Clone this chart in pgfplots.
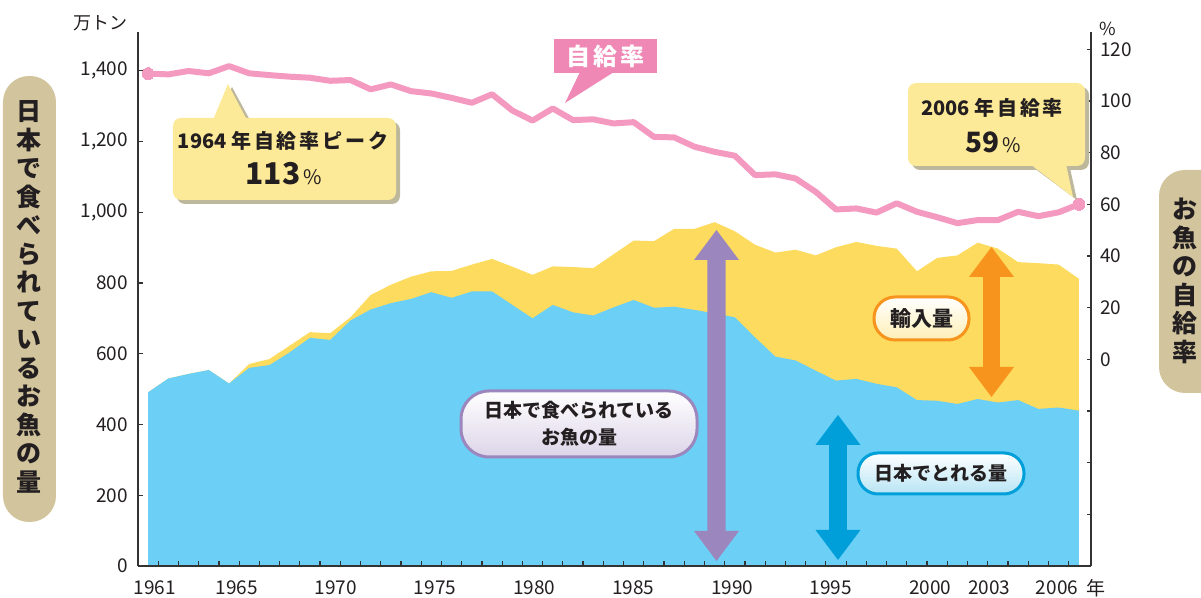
\documentclass[border=0pt]{standalone}
\usepackage{fontspec}
\setmainfont{Noto Sans CJK JP}
\usepackage{pgfplots}
\pgfplotsset{compat=1.18}
\usepackage{pgfplotstable}

\definecolor{seablue}{HTML}{6BCFF6}
\definecolor{importy}{HTML}{FDDB5E}
\definecolor{ratepink}{HTML}{F49AC1}
\definecolor{tagpink}{HTML}{F088B6}
\definecolor{calloutfill}{HTML}{FDEA98}
\definecolor{calloutshadow}{HTML}{BDB79C}
\definecolor{sidetan}{HTML}{D2C49D}
\definecolor{arrowpurple}{HTML}{9C86BE}
\definecolor{arrowblue}{HTML}{009FDA}
\definecolor{arroworange}{HTML}{F7941D}
\definecolor{ink}{HTML}{231F20}
\definecolor{axisgray}{HTML}{333333}

% year (plotted at year+0.5), domestic catch, total supply (10^4 t)
\pgfplotstableread{
x dom total
1960.5 491 491
1961.5 530 530
1962.5 543 543
1963.5 554 554
1964.5 516 516
1965.5 560 571
1966.5 568 585
1967.5 604 623
1968.5 645 661
1969.5 639 658
1970.5 694 703
1971.5 725 766
1972.5 743 795
1973.5 755 818
1974.5 774 833
1975.5 758 834
1976.5 776 852
1977.5 776 868
1978.5 738 846
1979.5 700 823
1980.5 738 847
1981.5 717 845
1982.5 708 842
1983.5 731 881
1984.5 752 920
1985.5 730 918
1986.5 733 953
1987.5 724 953
1988.5 714 972
1989.5 703 946
1990.5 646 908
1991.5 592 886
1992.5 581 894
1993.5 552 878
1994.5 524 901
1995.5 529 916
1996.5 515 905
1997.5 505 897
1998.5 469 833
1999.5 467 871
2000.5 458 878
2001.5 472 914
2002.5 462 897
2003.5 469 859
2004.5 444 856
2005.5 448 852
2006.5 439 812
}\fishdata

% self-sufficiency rate (%)
\pgfplotstableread{
x rate
1960.5 110.6
1961.5 110.3
1962.5 111.6
1963.5 110.7
1964.5 113.5
1965.5 110.7
1966.5 110.0
1967.5 109.4
1968.5 109.0
1969.5 107.8
1970.5 108.1
1971.5 104.5
1972.5 106.4
1973.5 103.8
1974.5 102.9
1975.5 101.2
1976.5 99.3
1977.5 102.6
1978.5 96.3
1979.5 92.4
1980.5 97.1
1981.5 92.6
1982.5 92.9
1983.5 91.3
1984.5 91.8
1985.5 86.1
1986.5 85.9
1987.5 82.3
1988.5 80.3
1989.5 78.8
1990.5 71.3
1991.5 71.6
1992.5 70.0
1993.5 64.8
1994.5 58.0
1995.5 58.4
1996.5 56.8
1997.5 60.4
1998.5 57.1
1999.5 55.0
2000.5 52.7
2001.5 53.9
2002.5 53.9
2003.5 57.1
2004.5 55.4
2005.5 56.9
2006.5 60.0
}\ratedata

% vertical double arrow: cx, y top, y bottom, shaft half width, colour (pixel units)
\newcommand{\vdarrow}[5]{%
  \fill[#5] (#1,#2) -- ({#1+22.5},{#2+30}) -- ({#1+#4},{#2+30}) -- ({#1+#4},{#3-30})
    -- ({#1+22.5},{#3-30}) -- (#1,#3) -- ({#1-22.5},{#3-30}) -- ({#1-#4},{#3-30})
    -- ({#1-#4},{#2+30}) -- ({#1-22.5},{#2+30}) -- cycle;}
\newcommand{\wide}[1]{{\addfontfeature{LetterSpace=14}#1}}

\begin{document}
\begin{tikzpicture}
\pgfplotsset{
  common/.style={
    at={(0,0)}, anchor=south west,
    scale only axis, width=476.5pt, height=267pt,
    xmin=1960, xmax=2007.1,
    axis line style={draw=axisgray, line width=0.65pt},
    tick style={axisgray, line width=0.6pt},
    ticklabel style={font=\fontsize{9.5}{11}\selectfont, text=ink},
    /pgf/number format/assume math mode=true,
  },
}
\begin{axis}[
  common,
  ymin=0, ymax=1509.5,
  axis x line*=bottom, axis y line*=left,
  xtick align=inside, ytick align=inside,
  major tick length=2.5pt,
  xtick={1961,...,2006}, xticklabels={},
  extra x ticks={1960.84,1964.88,1969.78,1974.68,1979.59,1984.48,1989.37,1994.25,1999.15,2002.08,2005.42},
  extra x tick labels={1961,1965,1970,1975,1980,1985,1990,1995,2000,2003,2006},
  extra x tick style={major tick length=0pt, tick label style={yshift=-4pt}},
  ytick={0,200,...,1400},
  yticklabel style={xshift=-1.5pt},
  axis on top,
]
\addplot[fill=importy, draw=none] table[x=x, y=total]{\fishdata} \closedcycle;
\addplot[fill=seablue, draw=none] table[x=x, y=dom]{\fishdata} \closedcycle;
\end{axis}

\begin{axis}[
  common,
  ymin=-80, ymax=126.7,
  axis y line*=right, axis x line=none,
  ytick align=inside, major tick length=2pt,
  ytick={-60,-40,...,120}, yticklabels={,,,0,20,40,60,80,100,120},
  yticklabel style={xshift=1pt},
]
\addplot[ratepink, line width=3pt, line join=round] table[x=x, y=rate]{\ratedata};
\addplot[only marks, mark=*, mark size=3pt, color=ratepink, mark options={fill=ratepink, draw=ratepink, line width=0pt}]
  coordinates {(1960.5,110.6) (2006.5,60.0)};
\end{axis}

% annotations, in pixel units of the reference
\begin{scope}[shift={(-69pt,283pt)}, x=0.5pt, y=-0.5pt]
  \node[font=\fontsize{9}{9}\selectfont, text=ink] at (101,23) {万トン};
  \node[font=\fontsize{9}{9}\selectfont, text=ink] at (1108,29) {\%};
  \node[font=\fontsize{9.5}{9.5}\selectfont, text=ink] at (1096,588) {年};

  % side labels
  \fill[sidetan, rounded corners=13pt] (3,76) rectangle (56,522);
  \node[align=center, text=ink, font=\fontsize{12.5}{14.25}\selectfont\bfseries] at (29.5,297)
    {日\\本\\で\\食\\べ\\ら\\れ\\て\\い\\る\\お\\魚\\の\\量};
  \fill[sidetan, rounded corners=13pt] (1159,170) rectangle (1240,393);
  \node[align=center, text=ink, font=\fontsize{12.5}{14.25}\selectfont\bfseries] at (1185,281)
    {お\\魚\\の\\自\\給\\率};

  % arrows
  \vdarrow{716.5}{230}{561}{9.2}{arrowpurple}
  \vdarrow{838}{415}{560}{8.8}{arrowblue}
  \vdarrow{991.5}{247}{397}{8.4}{arroworange}

  % label boxes
  \path[top color=white, bottom color=arrowpurple!35, draw=arrowpurple, line width=1.5pt, rounded corners=14pt]
    (461,391) rectangle (697,457);
  \node[align=center, text=ink, font=\fontsize{9.5}{13.5}\selectfont\bfseries] at (579,424)
    {日本で食べられている\\お魚の量};
  \path[top color=white, bottom color=arrowblue!28, draw=arrowblue, line width=1.5pt, rounded corners=10pt]
    (858,453) rectangle (1024,494);
  \node[text=ink, font=\fontsize{9.5}{11}\selectfont\bfseries] at (941,473.5) {日本でとれる量};
  \path[top color=white, bottom color=importy!45, draw=arroworange, line width=1.5pt, rounded corners=10.5pt]
    (874,297) rectangle (969,340);
  \node[text=ink, font=\fontsize{10.5}{11}\selectfont\bfseries] at (921.5,318.5) {輸入量};

  % rate tag
  \fill[tagpink] (554,39) rectangle (657,73);
  \fill[tagpink] (580,72) -- (565,103) -- (614,72) -- cycle;
  \node[text=white, font=\fontsize{12}{12}\selectfont\bfseries] at (605.5,56) {\wide{自給率}};

  % 1964 callout
  \fill[calloutshadow, rounded corners=4pt] (177,122) rectangle (400,204);
  \fill[calloutshadow] (217,122) -- (232,87) -- (251,122) -- cycle;
  \fill[calloutfill, rounded corners=4pt] (173,118) rectangle (396,200);
  \fill[calloutfill] (213,120) -- (228,84) -- (247,120) -- cycle;
  \node[text=ink, font=\fontsize{10}{10}\selectfont\bfseries] at (283,141)
    {1964 \wide{年自給率ピーク}};
  \node[text=ink] at (284,174)
    {\fontsize{15}{15}\selectfont\bfseries 113\fontsize{10}{10}\selectfont\mdseries\,\%};

  % 2006 callout
  \fill[calloutshadow, rounded corners=4pt] (912,87) rectangle (1089,170);
  \fill[calloutshadow] (1034,168) -- (1077,200) -- (1070,168) -- cycle;
  \fill[calloutfill, rounded corners=4pt] (908,83) rectangle (1085,166);
  \fill[calloutfill] (1030,164) -- (1073,197) -- (1066,164) -- cycle;
  \node[text=ink, font=\fontsize{10}{10}\selectfont\bfseries] at (992,108)
    {2006 \wide{年自給率}};
  \node[text=ink] at (993,142)
    {\fontsize{14}{14}\selectfont\bfseries 59\fontsize{10}{10}\selectfont\mdseries\,\%};
\end{scope}

\pgfresetboundingbox
\begin{scope}[shift={(-69pt,283pt)}, x=0.5pt, y=-0.5pt]
  \path[use as bounding box] (0,0) rectangle (1201,598);
\end{scope}
\end{tikzpicture}
\end{document}
